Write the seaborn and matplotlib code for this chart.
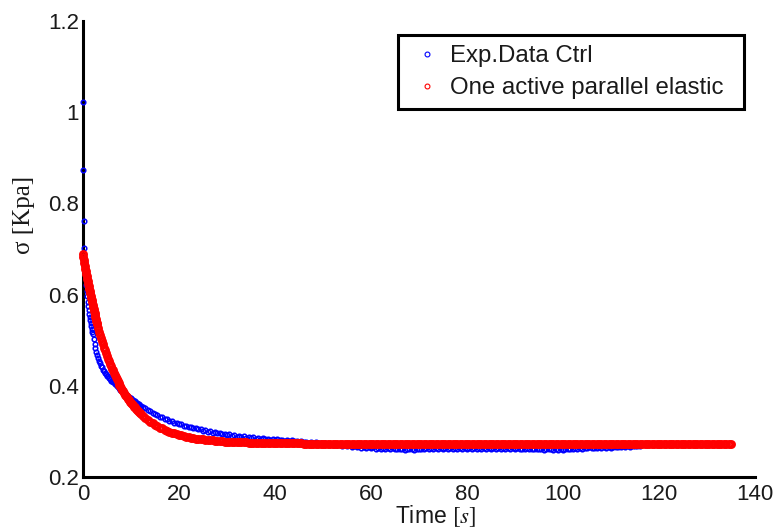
import numpy as np
import pandas as pd
import matplotlib
matplotlib.use("Agg")
import matplotlib.pyplot as plt
from matplotlib.lines import Line2D
import seaborn as sns

# ---------------------------------------------------------------------------
# Stress relaxation data, sigma in kPa versus time in s
# ---------------------------------------------------------------------------

# Experimental control data, fast initial part (explicit sample times)
exp_t_early = [0.0, 0.1, 0.2, 0.3, 0.4, 0.5, 0.6, 0.7, 0.8, 0.9,
               1.0, 1.1, 1.2, 1.3, 1.4, 1.5, 1.6, 1.7, 1.8, 1.9,
               2.0, 2.2, 2.4, 2.6, 2.8, 3.0]
exp_sigma_early = [1.022, 0.874, 0.762, 0.703, 0.672, 0.652, 0.636, 0.621, 0.607, 0.596,
                   0.585, 0.575, 0.566, 0.558, 0.551, 0.544, 0.537, 0.531, 0.525, 0.519,
                   0.514, 0.503, 0.493, 0.484, 0.475, 0.467]

# Experimental control data, every 0.2 s from 3.2 s to 12 s
exp_mid_start, exp_mid_dt = 3.2, 0.2
exp_sigma_mid = [
    0.462, 0.454, 0.450, 0.443, 0.441, 0.435, 0.433, 0.428, 0.427, 0.422,
    0.421, 0.417, 0.416, 0.412, 0.412, 0.408, 0.408, 0.404, 0.404, 0.400,
    0.400, 0.396, 0.396, 0.392, 0.392, 0.388, 0.388, 0.384, 0.384, 0.380,
    0.380, 0.376, 0.376, 0.373, 0.373, 0.369, 0.370, 0.366, 0.367, 0.363,
    0.363, 0.360, 0.360, 0.357, 0.357,
]

# Experimental control data, every 0.5 s from 12.5 s to 116 s
exp_late_start, exp_late_dt = 12.5, 0.5
exp_sigma_late = [
    0.355, 0.351,
    0.347, 0.346, 0.341, 0.339, 0.336, 0.333, 0.332, 0.328, 0.327, 0.324,
    0.323, 0.320, 0.320, 0.316, 0.316, 0.313, 0.312, 0.310, 0.310, 0.307,
    0.308, 0.305, 0.306, 0.302, 0.303, 0.300, 0.301, 0.298, 0.299, 0.296,
    0.297, 0.294, 0.295, 0.292, 0.294, 0.291, 0.292, 0.289, 0.291, 0.288,
    0.290, 0.287, 0.289, 0.286, 0.288, 0.285, 0.286, 0.284, 0.286, 0.283,
    0.285, 0.282, 0.284, 0.281, 0.283, 0.281, 0.282, 0.280, 0.282, 0.279,
    0.281, 0.279, 0.280, 0.277, 0.279, 0.277, 0.278, 0.276, 0.278, 0.275,
    0.277, 0.275, 0.276, 0.273, 0.275, 0.272, 0.274, 0.271, 0.273, 0.270,
    0.272, 0.269, 0.271, 0.268, 0.270, 0.267, 0.269, 0.266, 0.268, 0.265,
    0.267, 0.265, 0.266, 0.264, 0.266, 0.263, 0.265, 0.263, 0.265, 0.262,
    0.264, 0.262, 0.264, 0.261, 0.263, 0.261, 0.262, 0.260, 0.262, 0.261,
    0.262, 0.260, 0.263, 0.261, 0.262, 0.262, 0.264, 0.262, 0.264, 0.263,
    0.265, 0.263, 0.264, 0.262, 0.265, 0.263, 0.264, 0.262, 0.264, 0.263,
    0.265, 0.262, 0.264, 0.263, 0.265, 0.263, 0.264, 0.262, 0.265, 0.263,
    0.264, 0.262, 0.265, 0.263, 0.264, 0.263, 0.265, 0.262, 0.264, 0.263,
    0.265, 0.263, 0.264, 0.262, 0.264, 0.262, 0.263, 0.262, 0.264, 0.262,
    0.263, 0.261, 0.263, 0.261, 0.262, 0.260, 0.262, 0.261, 0.262, 0.260,
    0.261, 0.260, 0.262, 0.260, 0.261, 0.261, 0.263, 0.262, 0.264, 0.263,
    0.265, 0.263, 0.265, 0.264, 0.266, 0.264, 0.265, 0.264, 0.266, 0.265,
    0.266, 0.265, 0.267, 0.265, 0.266, 0.266, 0.267, 0.266, 0.268, 0.267,
    0.268, 0.267, 0.269, 0.268, 0.269, 0.268,
]

# Model: one active parallel elastic element, fast part (explicit times)
model_t_early = [0.0, 0.1, 0.2, 0.3, 0.4, 0.5, 0.6, 0.7, 0.8, 0.9,
                 1.0, 1.1, 1.2, 1.3, 1.4, 1.5, 1.6, 1.7, 1.8, 1.9,
                 2.0, 2.1, 2.2, 2.3, 2.4, 2.5, 2.6, 2.7, 2.8, 2.9, 3.0]
model_sigma_early = [0.688, 0.682, 0.675, 0.669, 0.663, 0.657, 0.652, 0.646, 0.640, 0.635,
                     0.629, 0.624, 0.618, 0.613, 0.608, 0.603, 0.598, 0.593, 0.588, 0.583,
                     0.578, 0.574, 0.569, 0.565, 0.560, 0.556, 0.552, 0.547, 0.543, 0.539,
                     0.535]

# Model output every 0.2 s from 3.2 s to 12 s
model_mid_start, model_mid_dt = 3.2, 0.2
model_sigma_mid = [
    0.527, 0.519, 0.512, 0.505, 0.498, 0.491, 0.484, 0.478, 0.472, 0.466,
    0.460, 0.454, 0.449, 0.444, 0.438, 0.434, 0.429, 0.424, 0.419, 0.415,
    0.411, 0.407, 0.403, 0.399, 0.395, 0.391, 0.388, 0.384, 0.381, 0.378,
    0.375, 0.372, 0.369, 0.366, 0.363, 0.360, 0.358, 0.355, 0.353, 0.350,
    0.348, 0.346, 0.344, 0.341, 0.339,
]

# Model output every 0.5 s from 12.5 s to 135 s
model_late_start, model_late_dt = 12.5, 0.5
model_sigma_late = [
    0.334, 0.330,
    0.326, 0.322, 0.318, 0.315, 0.312, 0.309, 0.307, 0.304, 0.302, 0.300,
    0.298, 0.296, 0.295, 0.293, 0.292, 0.290, 0.289, 0.288, 0.287, 0.286,
    0.285, 0.284, 0.284, 0.283, 0.282, 0.282, 0.281, 0.281, 0.280, 0.280,
    0.279, 0.279, 0.278, 0.278, 0.278, 0.278, 0.277, 0.277, 0.277, 0.277,
    0.277, 0.277, 0.276, 0.276, 0.276, 0.276, 0.276, 0.276, 0.275, 0.275,
    0.275, 0.275, 0.275, 0.275, 0.275, 0.275, 0.275, 0.275, 0.275, 0.275,
    0.275, 0.275, 0.275, 0.275, 0.275, 0.274, 0.274, 0.274, 0.274, 0.274,
    0.274, 0.274, 0.274, 0.274, 0.274, 0.274, 0.274, 0.274, 0.274, 0.274,
    0.274, 0.274, 0.274, 0.274, 0.274, 0.274, 0.274, 0.274, 0.274, 0.274,
    0.274, 0.274, 0.274, 0.274, 0.274, 0.274, 0.274, 0.274, 0.274, 0.274,
    0.274, 0.274, 0.274, 0.274, 0.274, 0.274, 0.274, 0.274, 0.274, 0.274,
    0.274, 0.274, 0.274, 0.274, 0.274, 0.274, 0.274, 0.274, 0.274, 0.274,
    0.274, 0.274, 0.274, 0.274, 0.274, 0.274, 0.274, 0.274, 0.274, 0.274,
    0.274, 0.274, 0.274, 0.274, 0.274, 0.274, 0.274, 0.274, 0.274, 0.274,
    0.274, 0.274, 0.274, 0.274, 0.274, 0.274, 0.274, 0.274, 0.274, 0.274,
    0.274, 0.274, 0.274, 0.274, 0.274, 0.274, 0.274, 0.274, 0.274, 0.274,
    0.274, 0.274, 0.274, 0.274, 0.274, 0.274, 0.274, 0.274, 0.274, 0.274,
    0.274, 0.274, 0.274, 0.274, 0.274, 0.274, 0.274, 0.274, 0.274, 0.274,
    0.274, 0.274, 0.274, 0.274, 0.274, 0.274, 0.274, 0.274, 0.274, 0.274,
    0.274, 0.274, 0.274, 0.274, 0.274, 0.274, 0.274, 0.274, 0.274, 0.274,
    0.274, 0.274, 0.274, 0.274, 0.274, 0.274, 0.274, 0.274, 0.274, 0.274,
    0.274, 0.274, 0.274, 0.274, 0.274, 0.274, 0.274, 0.274, 0.274, 0.274,
    0.274, 0.274, 0.274, 0.274, 0.274, 0.274, 0.274, 0.274, 0.274, 0.274,
    0.274, 0.274, 0.274, 0.274, 0.274, 0.274, 0.274, 0.274, 0.274, 0.274,
    0.274, 0.274, 0.274, 0.274,
]

series_names = ["Exp.Data Ctrl", "One active parallel elastic"]
x_ticks = [0, 20, 40, 60, 80, 100, 120, 140]
y_ticks = [0.2, 0.4, 0.6, 0.8, 1.0, 1.2]
y_tick_labels = ["0.2", "0.4", "0.6", "0.8", "1", "1.2"]


def sample_times(start, step, values):
    """Time stamps of a uniformly sampled record."""
    return list(start + step * np.arange(len(values)))


# ---------------------------------------------------------------------------
# Assemble tidy tables
# ---------------------------------------------------------------------------
exp_df = pd.DataFrame({
    "t": list(exp_t_early)
         + sample_times(exp_mid_start, exp_mid_dt, exp_sigma_mid)
         + sample_times(exp_late_start, exp_late_dt, exp_sigma_late),
    "sigma": list(exp_sigma_early) + list(exp_sigma_mid) + list(exp_sigma_late),
})
model_df = pd.DataFrame({
    "t": list(model_t_early)
         + sample_times(model_mid_start, model_mid_dt, model_sigma_mid)
         + sample_times(model_late_start, model_late_dt, model_sigma_late),
    "sigma": list(model_sigma_early) + list(model_sigma_mid) + list(model_sigma_late),
})

# ---------------------------------------------------------------------------
# Figure
# ---------------------------------------------------------------------------
sns.set_style("white")
plt.rcParams["font.family"] = ["Liberation Sans", "DejaVu Sans"]
plt.rcParams["mathtext.fontset"] = "stix"

fig = plt.figure(figsize=(7.8, 5.31), dpi=100)
ax = fig.add_axes([0.1064, 0.1011, 0.8615, 0.8599])

sns.lineplot(data=exp_df, x="t", y="sigma", ax=ax, estimator=None, sort=False,
             linestyle="", marker="o", markersize=3.3, markerfacecolor="none",
             markeredgecolor="blue", markeredgewidth=1.1, color="blue",
             clip_on=False, zorder=3)
sns.lineplot(data=model_df, x="t", y="sigma", ax=ax, estimator=None, sort=False,
             linestyle="", marker="o", markersize=4.4, markerfacecolor="none",
             markeredgecolor="red", markeredgewidth=2.0, color="red",
             clip_on=False, zorder=4)

ax.set_xlim(0, 140)
ax.set_ylim(0.2, 1.2)
ax.set_xticks(x_ticks)
ax.set_xticklabels([str(v) for v in x_ticks])
ax.set_yticks(y_ticks)
ax.set_yticklabels(y_tick_labels)

for side in ("top", "right"):
    ax.spines[side].set_visible(False)
for side in ("left", "bottom"):
    ax.spines[side].set_linewidth(2.2)
    ax.spines[side].set_color("black")

ax.tick_params(axis="both", direction="in", length=4, width=2.2,
               labelsize=16, colors="black")
ax.tick_params(axis="x", pad=5)
ax.tick_params(axis="y", pad=3)
for lbl in ax.get_xticklabels() + ax.get_yticklabels():
    lbl.set_color("#1a1a1a")

ax.set_xlabel("Time $[s]$", fontsize=16.5, color="#1a1a1a")
ax.xaxis.set_label_coords(0.525, -0.057)
ax.set_ylabel("σ [Kpa]", fontsize=18, color="#1a1a1a",
              family=["Liberation Serif", "DejaVu Serif"])
ax.yaxis.set_label_coords(-0.071, 0.575)

handles = [
    Line2D([], [], linestyle="", marker="o", markersize=3.5, markerfacecolor="none",
           markeredgecolor="blue", markeredgewidth=0.8),
    Line2D([], [], linestyle="", marker="o", markersize=3.5, markerfacecolor="none",
           markeredgecolor="red", markeredgewidth=0.8),
]
leg = ax.legend(handles, series_names, loc="upper left", mode="expand",
                bbox_to_anchor=(398 / 780, 1 - 107 / 531, 346 / 780, 72 / 531),
                bbox_transform=fig.transFigure, borderaxespad=0,
                fontsize=17.3, frameon=True, fancybox=False,
                handlelength=1.6, handletextpad=0.15, borderpad=0.42,
                labelspacing=0.42)
frame = leg.get_frame()
frame.set_edgecolor("black")
frame.set_linewidth(2.2)
frame.set_facecolor("white")
frame.set_alpha(1)
for txt in leg.get_texts():
    txt.set_color("#1a1a1a")

fig.savefig("out.png", dpi=100)
